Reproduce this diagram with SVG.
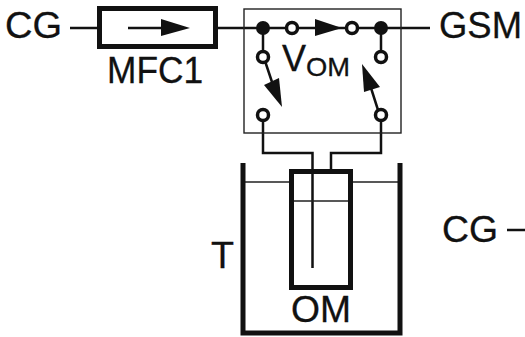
<svg xmlns="http://www.w3.org/2000/svg" width="525" height="337" viewBox="0 0 525 337">
<style>
text{font-family:"Liberation Sans",Arial,sans-serif;fill:#111;stroke:#111;stroke-width:.3}
.t{font-size:36px}
.s{font-size:26px}
.w{fill:none;stroke:#111;stroke-width:2.500;stroke-linejoin:miter}
.h{fill:none;stroke:#111;stroke-width:5}
.f{fill:none;stroke:#222;stroke-width:1.400}
.o{fill:#fff;stroke:#111;stroke-width:3.500}
.d{fill:#111}
.a{fill:#111;stroke:none}
</style>
<rect width="525" height="337" fill="#fff"/>
<g id="connectors">
<path class="w" d="M70 28H98M218 28H430"/>
<path class="w" d="M263 28V57M381 28V57M263 115V153H312.500V268M381 115V153H331V170"/>
<path class="w" d="M265 61L272 82M378 110L371 88M128 28H162"/>
<path class="f" d="M243 182H289M353 182H398M291 201H351"/>
<polygon class="a" points="161,19 190,28 161,36"/>
<polygon class="a" points="315,19 342,28 315,36"/>
<polygon class="a" points="282,107 264,85 279,78"/>
<polygon class="a" points="362,64 364,92 380,87"/>
</g>
<g id="MFC1"><rect class="h" x="99.500" y="8.500" width="116" height="38"/><text class="t" x="107" y="83" textLength="96" lengthAdjust="spacingAndGlyphs">MFC1</text></g>
<g id="CG-in"><text class="t" x="5" y="38" textLength="57" lengthAdjust="spacingAndGlyphs">CG</text></g>
<g id="GSM"><text class="t" x="439" y="38" textLength="83" lengthAdjust="spacingAndGlyphs">GSM</text></g>
<g id="valve">
<rect class="f" x="244" y="9" width="157" height="124"/>
<circle class="d" cx="263" cy="28" r="7"/><circle class="d" cx="381" cy="28" r="7"/>
<circle class="o" cx="292" cy="28" r="5.500"/><circle class="o" cx="352" cy="28" r="5.500"/>
<circle class="o" cx="263" cy="57" r="5.500"/><circle class="o" cx="381" cy="57" r="5.500"/>
<circle class="o" cx="263" cy="115" r="5.500"/><circle class="o" cx="381" cy="115" r="5.500"/>
<text x="282" y="71" font-size="36">V</text><text class="s" x="306" y="76" textLength="44" lengthAdjust="spacingAndGlyphs">OM</text>
</g>
<g id="T"><path class="h" d="M243 163V333H400V163"/><text class="t" x="211" y="268" textLength="23" lengthAdjust="spacingAndGlyphs">T</text></g>
<g id="OM"><rect class="h" x="291.500" y="171.500" width="59" height="116"/><text class="t" x="291" y="322" textLength="60" lengthAdjust="spacingAndGlyphs">OM</text></g>
<g id="CG-out"><text class="t" x="442" y="242" textLength="56" lengthAdjust="spacingAndGlyphs">CG</text><path class="w" d="M507 230H525"/></g>
</svg>
